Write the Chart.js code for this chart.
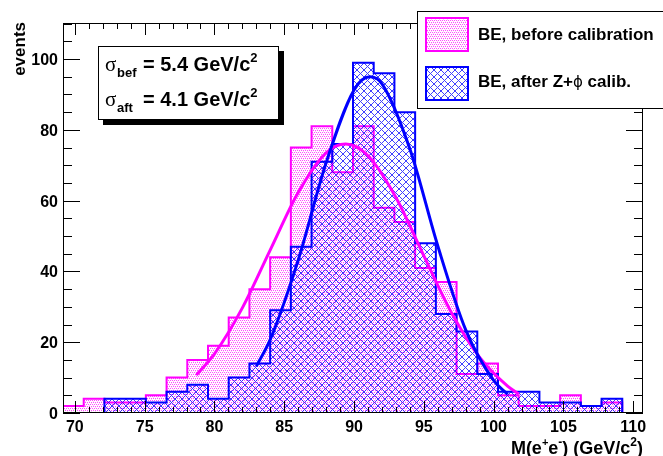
<!DOCTYPE html>
<html>
<head>
<meta charset="utf-8">
<script src="https://cdn.jsdelivr.net/npm/chart.js@4.4.1/dist/chart.umd.min.js"></script>
<style>
  html, body { margin: 0; padding: 0; background: #fff; }
</style>
</head>
<body>
<canvas id="massChart" width="663" height="456"></canvas>
<script>
// histogram range (GeV/c^2) and bin contents, 28 bins
const histRange = [69.15, 110.7];
const countsBefore = [2, 4, 3, 3, 5, 10, 15, 19, 27, 35, 44, 75, 81, 68, 81, 58, 54, 41, 37, 11, 14, 5, 2, 2, 5, 2, 3, 0];
const countsAfter  = [0, 0, 4, 4, 3, 6, 8, 4, 10, 14, 29, 47, 71, 76, 99, 96, 85, 48, 28, 23, 11, 6, 6, 3, 3, 2, 4, 0];

// gaussian fit curves
const fitBeforeX = [78.7, 80, 82, 84, 86, 88, 89.4, 91, 93, 95, 97, 99, 101, 101.8];
const fitBeforeY = [10.7, 16.7, 29.7, 46.1, 62.3, 73.5, 76, 72.7, 60.9, 44.4, 28.2, 15.7, 7.6, 5.4];
const fitAfterX = [83, 84, 86, 88, 90, 91.15, 92, 94, 96, 98, 100, 101];
const fitAfterY = [13.2, 20.8, 43.2, 70.7, 91.3, 95, 93, 74.6, 47.2, 23.5, 9.2, 5.3];

// axes
const xTicks = [70, 75, 80, 85, 90, 95, 100, 105, 110];
const yTicks = [0, 20, 40, 60, 80, 100];
const yMax = 110.2;

// texts
const seriesLabels = ['BE, before calibration', 'BE, after Z+', 'ϕ', ' calib.'];
const sigmaNames = ['bef', 'aft'];
const sigmaValues = ['5.4', '4.1'];

const MAGENTA = '#ff00ff';
const BLUE = '#0000ff';
const FONT = '"Liberation Sans", Arial, Helvetica, sans-serif';

// fill patterns (ROOT style dots / cross hatch)
function dotPattern(ctx) {
  const c = document.createElement('canvas');
  c.width = 4; c.height = 4;
  const g = c.getContext('2d');
  g.fillStyle = MAGENTA;
  g.globalAlpha = 0.7;
  [[0, 0], [2, 0], [1, 2], [3, 2]].forEach(p => g.fillRect(p[0], p[1], 1, 1));
  g.globalAlpha = 0.2;
  [[1, 1], [3, 3]].forEach(p => g.fillRect(p[0], p[1], 1, 1));
  return ctx.createPattern(c, 'repeat');
}
function hatchPattern(ctx) {
  const c = document.createElement('canvas');
  c.width = 7; c.height = 7;
  const g = c.getContext('2d');
  g.fillStyle = BLUE;
  g.globalAlpha = 0.75;
  for (let i = 0; i < 7; i++) {
    g.fillRect(i, i, 1, 1);
    if (6 - i !== i) g.fillRect(6 - i, i, 1, 1);
  }
  return ctx.createPattern(c, 'repeat');
}

// step points at the bin low edges, plus closing point at the upper edge
function stepPoints(counts) {
  const w = (histRange[1] - histRange[0]) / counts.length;
  const pts = counts.map((c, i) => ({ x: histRange[0] + i * w, y: c }));
  pts.push({ x: histRange[1], y: counts[counts.length - 1] });
  return pts;
}
function curvePoints(xs, ys) {
  return xs.map((x, i) => ({ x: x, y: ys[i] }));
}

// text with sub/superscripts: parts = [text, size, dy, weight, family]
function drawRich(ctx, x, y, parts, align) {
  let total = 0;
  parts.forEach(p => {
    ctx.font = (p[3] || 'bold') + ' ' + p[1] + 'px ' + (p[4] || FONT);
    total += ctx.measureText(p[0]).width;
  });
  let cx = align === 'right' ? x - total : x;
  parts.forEach(p => {
    ctx.font = (p[3] || 'bold') + ' ' + p[1] + 'px ' + (p[4] || FONT);
    ctx.textAlign = 'left';
    ctx.fillText(p[0], cx, y + (p[2] || 0));
    cx += ctx.measureText(p[0]).width;
  });
}

const canvas = document.getElementById('massChart');
const ctx = canvas.getContext('2d');
const dots = dotPattern(ctx);
const hatch = hatchPattern(ctx);

// frame, inward ticks, labels, titles
const rootFrame = {
  id: 'rootFrame',
  afterDatasetsDraw(chart) {
    const { ctx, chartArea: a, scales } = chart;
    const sx = scales.x, sy = scales.y;
    ctx.save();
    ctx.strokeStyle = '#000';
    ctx.lineWidth = 1;
    ctx.strokeRect(a.left + 0.5, a.top + 0.5, a.right - a.left - 1, a.bottom - a.top - 1);

    ctx.beginPath();
    for (let v = xTicks[0]; v <= xTicks[xTicks.length - 1]; v++) {
      const px = Math.round(sx.getPixelForValue(v)) + 0.5;
      const len = xTicks.includes(v) ? 12 : 6;
      ctx.moveTo(px, a.bottom); ctx.lineTo(px, a.bottom - len);
      ctx.moveTo(px, a.top); ctx.lineTo(px, a.top + len);
    }
    for (let v = 0; v <= yMax; v += 5) {
      const py = Math.round(sy.getPixelForValue(v)) + 0.5;
      const len = yTicks.includes(v) ? 17 : 9;
      ctx.moveTo(a.left, py); ctx.lineTo(a.left + len, py);
      ctx.moveTo(a.right, py); ctx.lineTo(a.right - len, py);
    }
    ctx.stroke();

    ctx.fillStyle = '#000';
    ctx.font = 'bold 16px ' + FONT;
    ctx.textAlign = 'center';
    xTicks.forEach(v => ctx.fillText(String(v), sx.getPixelForValue(v), 432));
    ctx.textAlign = 'right';
    yTicks.forEach(v => ctx.fillText(String(v), 58, sy.getPixelForValue(v) + 6));

    // axis titles
    drawRich(ctx, a.right, 454, [
      ['M(e', 18], ['+', 11, -8], ['e', 18], ['-', 12, -8], [') (GeV/c', 18], ['2', 12, -8], [')', 18]
    ], 'right');
    ctx.save();
    ctx.translate(25, 22);
    ctx.rotate(-Math.PI / 2);
    ctx.font = 'bold 17px ' + FONT;
    ctx.textAlign = 'right';
    ctx.fillText('events', 0, 0);
    ctx.restore();
    ctx.restore();
  },
  afterDraw(chart) {
    const ctx = chart.ctx;
    ctx.save();
    // sigma box with shadow
    ctx.fillStyle = '#000';
    ctx.fillRect(103, 51, 181, 74);
    ctx.fillStyle = '#fff';
    ctx.fillRect(98, 46, 181, 74);
    ctx.strokeStyle = '#000';
    ctx.lineWidth = 1;
    ctx.strokeRect(98.5, 46.5, 180, 73);
    ctx.fillStyle = '#000';
    [71, 106].forEach((base, i) => {
      drawRich(ctx, 105, base, [['σ', 21, 0, 'normal', '"Liberation Serif", serif']]);
      drawRich(ctx, 117, base, [[sigmaNames[i], 13, 6]]);
      drawRich(ctx, 143, base, [['= ' + sigmaValues[i] + ' GeV/c', 20], ['2', 13, -9]]);
    });

    // legend
    ctx.fillStyle = '#fff';
    ctx.fillRect(418, 12, 280, 96);
    ctx.strokeRect(417.5, 11.5, 280, 97);
    ctx.lineWidth = 2;
    ctx.fillStyle = dots;
    ctx.fillRect(426, 18, 42, 33);
    ctx.strokeStyle = MAGENTA;
    ctx.strokeRect(426, 18, 42, 33);
    ctx.fillStyle = hatch;
    ctx.fillRect(426, 67, 42, 33);
    ctx.strokeStyle = BLUE;
    ctx.strokeRect(426, 67, 42, 33);
    ctx.fillStyle = '#000';
    drawRich(ctx, 478, 40, [[seriesLabels[0], 17]]);
    drawRich(ctx, 478, 87, [
      [seriesLabels[1], 17], [seriesLabels[2], 15, 0, 'normal', '"DejaVu Sans", sans-serif'], [seriesLabels[3], 17]
    ]);
    ctx.restore();
  }
};

new Chart(ctx, {
  type: 'line',
  data: {
    datasets: [
      {
        label: 'fit after',
        data: curvePoints(fitAfterX, fitAfterY),
        borderColor: BLUE,
        borderWidth: 3,
        cubicInterpolationMode: 'monotone',
        pointRadius: 0,
        fill: false,
        order: 0
      },
      {
        label: 'fit before',
        data: curvePoints(fitBeforeX, fitBeforeY),
        borderColor: MAGENTA,
        borderWidth: 3,
        cubicInterpolationMode: 'monotone',
        pointRadius: 0,
        fill: false,
        order: 1
      },
      {
        label: 'BE, after Z+ϕ calib.',
        data: stepPoints(countsAfter),
        stepped: true,
        borderColor: BLUE,
        borderWidth: 2,
        backgroundColor: hatch,
        pointRadius: 0,
        fill: 'origin',
        order: 2
      },
      {
        label: 'BE, before calibration',
        data: stepPoints(countsBefore),
        stepped: true,
        borderColor: MAGENTA,
        borderWidth: 2,
        backgroundColor: dots,
        pointRadius: 0,
        fill: 'origin',
        order: 3
      }
    ]
  },
  options: {
    responsive: false,
    animation: false,
    layout: { padding: { left: 63, right: 20, top: 23, bottom: 43 } },
    scales: {
      x: { type: 'linear', min: histRange[0], max: histRange[1], display: false },
      y: { type: 'linear', min: 0, max: yMax, display: false }
    },
    plugins: {
      legend: { display: false },
      tooltip: { enabled: false }
    }
  },
  plugins: [rootFrame]
});
</script>
</body>
</html>
